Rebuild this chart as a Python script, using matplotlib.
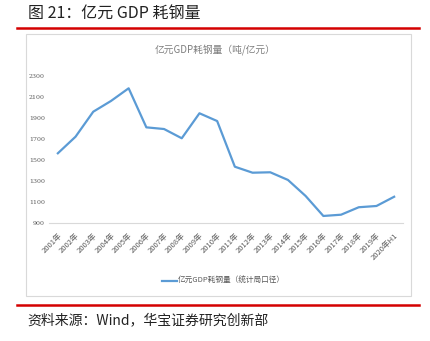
import matplotlib
matplotlib.use("Agg")
import matplotlib.pyplot as plt
from matplotlib.patches import Rectangle
from matplotlib.lines import Line2D

plt.rcParams['font.family'] = ['Noto Sans CJK SC', 'DejaVu Sans']

# 亿元GDP耗钢量 (吨/亿元)
years = ['2001年', '2002年', '2003年', '2004年', '2005年', '2006年', '2007年',
         '2008年', '2009年', '2010年', '2011年', '2012年', '2013年', '2014年',
         '2015年', '2016年', '2017年', '2018年', '2019年', '2020年H1']
steel = [1564, 1722, 1960, 2062, 2183, 1811, 1795, 1707, 1945, 1871,
         1436, 1379, 1383, 1310, 1157, 967, 979, 1050, 1062, 1150]
yticks = [900, 1100, 1300, 1500, 1700, 1900, 2100, 2300]

W, H = 430, 341
fig = plt.figure(figsize=(W / 100, H / 100), dpi=100)

def fx(px):
    return px / W

def fy(py):
    return 1 - py / H

# header / footer
fig.text(fx(28), fy(14), '图 21：亿元 GDP 耗钢量', fontsize=11.5, va='center', ha='left',
         color='#222222', weight='light')
fig.add_artist(Line2D([fx(17), fx(419)], [fy(28), fy(28)], color='#d40000', lw=1.8))
fig.add_artist(Line2D([fx(17), fx(419)], [fy(305), fy(305)], color='#d40000', lw=1.8))
fig.text(fx(27), fy(320), '资料来源：Wind，华宝证券研究创新部', fontsize=10, va='center', ha='left',
         color='#222222', weight='light')

# chart frame
fig.add_artist(Rectangle((fx(25.5), fy(296)), fx(411) - fx(25.5), fy(33.5) - fy(296),
                         fill=False, edgecolor='#d9d9d9', lw=0.8))
fig.text(fx(215), fy(50), '亿元GDP耗钢量（吨/亿元）', fontsize=7, ha='center', va='center', color='#7f7f7f')

ax = fig.add_axes([fx(49), fy(223), fx(403) - fx(49), fy(76) - fy(223)])
x = list(range(len(years)))
ax.plot(x, steel, color='#5b9bd5', lw=1.6, solid_joinstyle='round')
ax.set_xlim(-0.5, len(years) - 0.5)
ax.set_ylim(900, 2300)
ax.set_yticks(yticks)
ax.set_yticklabels([str(v) for v in yticks], fontsize=4.5, color='#595959', family='DejaVu Serif')
ax.set_xticks(x)
ax.set_xticklabels(years, rotation=45, ha='right', rotation_mode='anchor', fontsize=5.5, color='#595959')
ax.tick_params(length=0, pad=6)
ax.tick_params(axis='y', pad=3)
for s in ['top', 'right', 'left']:
    ax.spines[s].set_visible(False)
ax.spines['bottom'].set_color('#d9d9d9')
ax.spines['bottom'].set_linewidth(0.8)

# legend
fig.add_artist(Line2D([fx(162), fx(177)], [fy(281), fy(281)], color='#5b9bd5', lw=1.6))
fig.text(fx(178), fy(281), '亿元GDP耗钢量（统计局口径）', fontsize=5.5, ha='left', va='center', color='#595959')

fig.savefig('out.png', dpi=100)
